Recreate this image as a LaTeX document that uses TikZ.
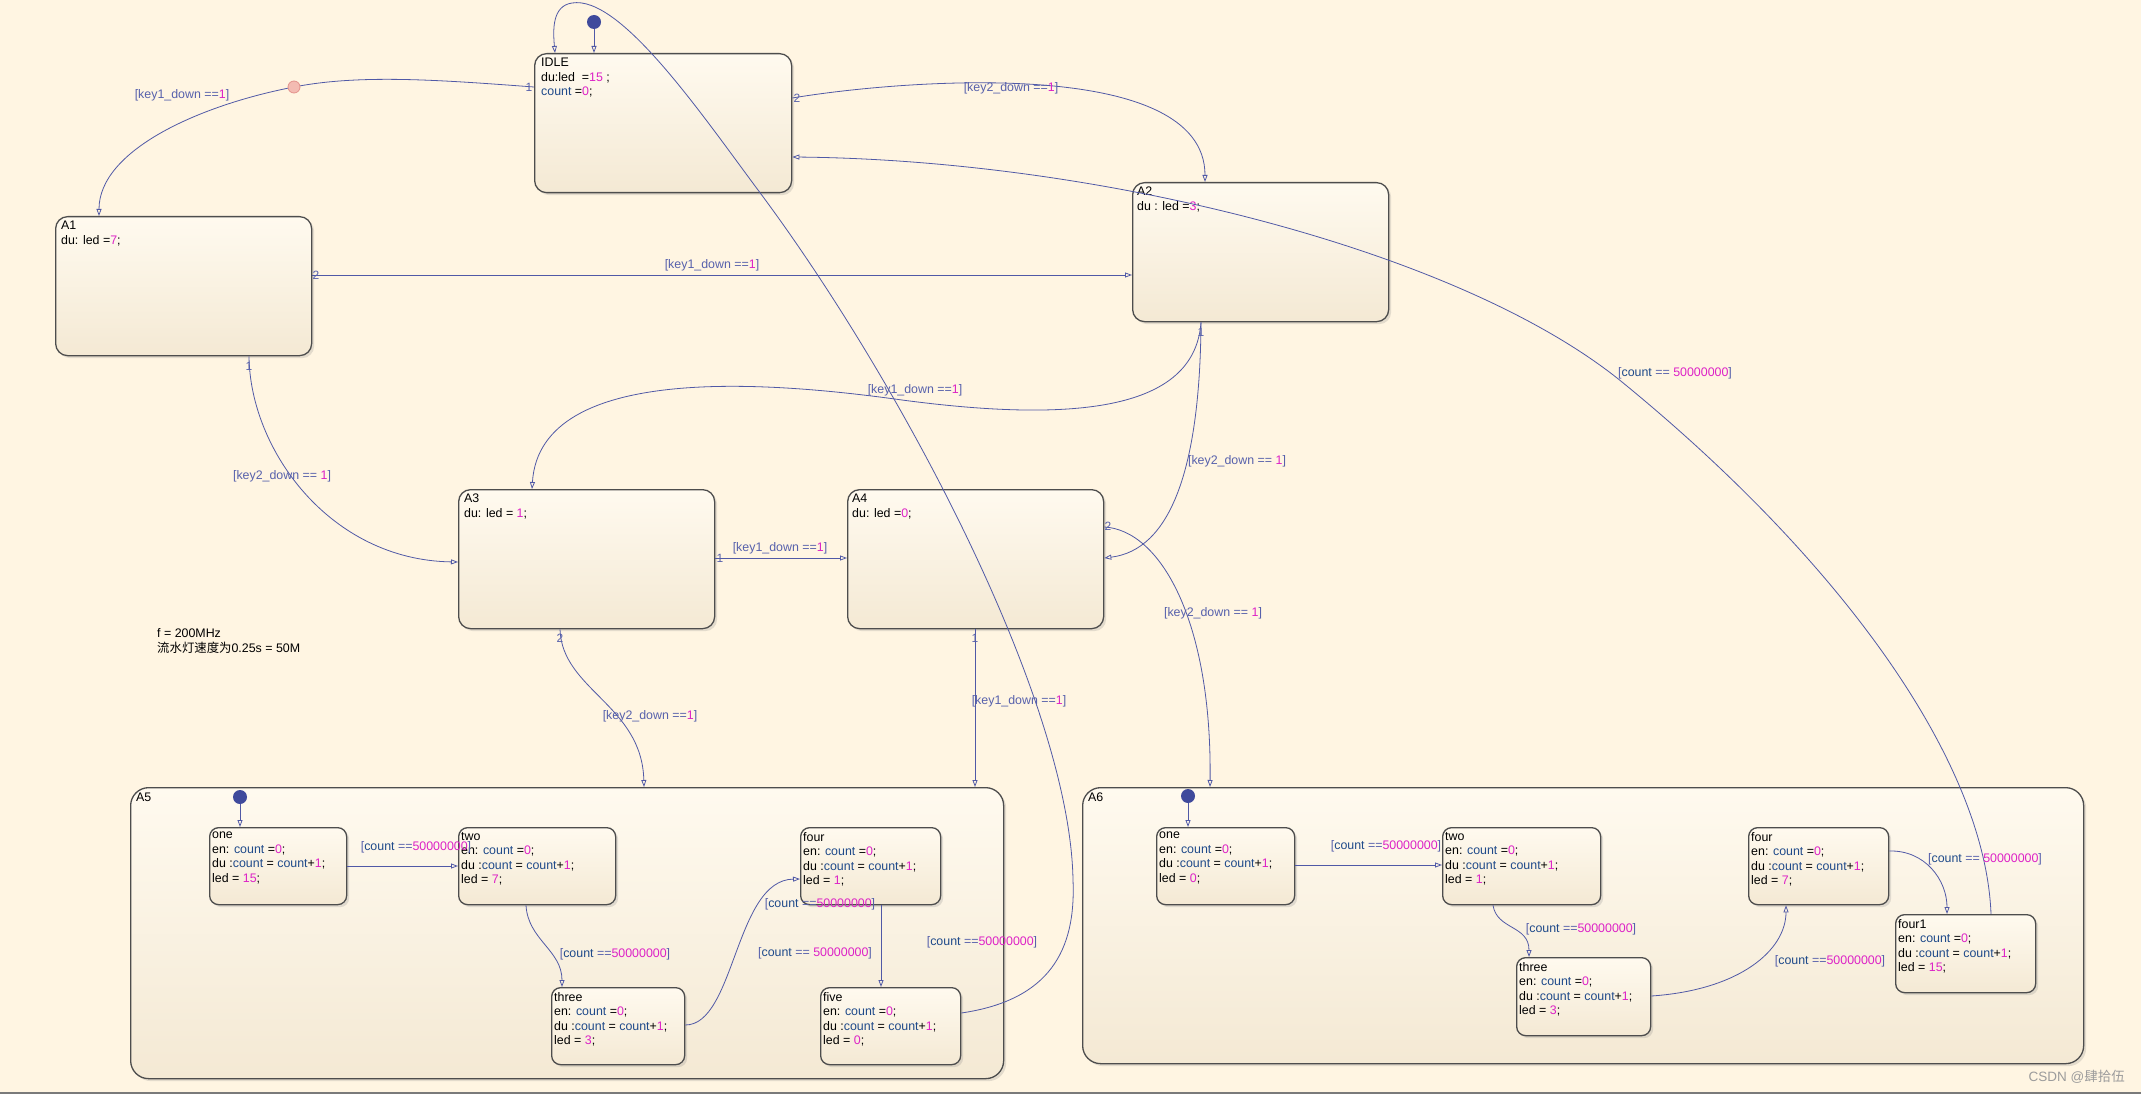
\documentclass[tikz,border=0pt]{standalone}
\usepackage{fontspec}
\setmainfont{Liberation Sans}
\newfontfamily\cjk{Noto Sans CJK SC}
\usetikzlibrary{arrows.meta, calc, shadows}

\definecolor{bgCream}{HTML}{FFF5E2}
\definecolor{stateTop}{HTML}{FFFAEF}
\definecolor{stateBottom}{HTML}{F4E9D4}
\definecolor{stateLine}{HTML}{4D4D4D}
\definecolor{transBlue}{HTML}{5059A6}
\definecolor{guardBlue}{HTML}{5761AC}
\definecolor{varBlue}{HTML}{1F4A8A}
\definecolor{numMag}{HTML}{DD22C6}
\definecolor{dotBlue}{HTML}{3F4A9C}
\definecolor{brkPink}{HTML}{F3BBB2}
\definecolor{brkRed}{HTML}{E3928C}
\definecolor{markGray}{HTML}{9C9C9C}
\definecolor{edgeGray}{HTML}{7A7A7A}

\newcommand{\vnum}[1]{\textcolor{numMag}{#1}}
\newcommand{\vcnt}{\textcolor{varBlue}{count}}

\begin{document}
\begin{tikzpicture}[
  x=1pt, y=-1pt,
  state/.style={
      anchor=north west,
      draw=stateLine,
      line width=1.3pt,
      rounded corners=12pt,
      top color=stateTop,
      bottom color=stateBottom,
      drop shadow={shadow xshift=2.5pt, shadow yshift=-2.5pt, opacity=0.22}
    },
  substate/.style={state, rounded corners=9pt},
  superstate/.style={state, rounded corners=18pt},
  body/.style={
      anchor=north west,
      inner sep=0pt,
      align=left,
      font=\fontsize{12.4}{14.5}\selectfont,
      execute at begin node={\rule{0pt}{9pt}}
    },
  trans/.style={
      draw=transBlue,
      line width=0.8pt,
      arrows = {-Triangle[open,length=7pt,width=5pt]}
    },
  guard/.style={
      text=guardBlue,
      inner sep=1pt,
      font=\fontsize{12.4}{14.5}\selectfont
    },
  port/.style={
      text=guardBlue,
      inner sep=0pt,
      font=\fontsize{12}{14}\selectfont
    },
  start dot/.style={
      circle,
      fill=dotBlue,
      inner sep=0pt,
      minimum size=14pt
    },
  brk/.style={
      circle,
      fill=brkPink,
      draw=brkRed,
      line width=0.8pt,
      inner sep=0pt,
      minimum size=12pt
    }]

  \useasboundingbox (0,0) rectangle (2141,1094);
  \fill [bgCream] (0,0) rectangle (2141,1094);
  \draw [edgeGray, line width=2pt] (0,1093) -- (2141,1093);

  % super states
  \node [superstate, minimum width=873pt, minimum height=291pt] (A5) at (130,787) {};
  \node [superstate, minimum width=1001pt, minimum height=276pt] (A6) at (1082,787) {};
  \node [body] (A5_text) at ($(A5.north west) + (6,5)$) {A5};
  \node [body] (A6_text) at ($(A6.north west) + (6,5)$) {A6};

  % top level states
  \node [state, minimum width=257pt, minimum height=139pt] (IDLE) at (534,53) {};
  \node [state, minimum width=256pt, minimum height=139pt] (A1) at (55,216) {};
  \node [state, minimum width=256pt, minimum height=139pt] (A2) at (1132,182) {};
  \node [state, minimum width=256pt, minimum height=139pt] (A3) at (458,489) {};
  \node [state, minimum width=256pt, minimum height=139pt] (A4) at (847,489) {};

  \node [body] (IDLE_text) at ($(IDLE.north west) + (7,5)$) {IDLE\\du:led\ \ =\vnum{15} ;\\\vcnt{} =\vnum{0};};
  \node [body] (A1_text) at ($(A1.north west) + (6,5)$) {A1\\du: led =\vnum{7};};
  \node [body] (A2_text) at ($(A2.north west) + (5,5)$) {A2\\du : led =\vnum{3};};
  \node [body] (A3_text) at ($(A3.north west) + (6,5)$) {A3\\du: led = \vnum{1};};
  \node [body] (A4_text) at ($(A4.north west) + (5,5)$) {A4\\du: led =\vnum{0};};

  % sub states of A5
  \node [substate, minimum width=137pt, minimum height=77pt] (one5) at (209,827) {};
  \node [substate, minimum width=157pt, minimum height=77pt] (two5) at (458,827) {};
  \node [substate, minimum width=133pt, minimum height=77pt] (three5) at (551,987) {};
  \node [substate, minimum width=140pt, minimum height=77pt] (four5) at (800,827) {};
  \node [substate, minimum width=140pt, minimum height=77pt] (five5) at (820,987) {};

  \node [body] (one5_text) at ($(one5.north west) + (3,5)$) {one\\en: \vcnt{} =\vnum{0};\\du :\vcnt{} = \vcnt{}+\vnum{1};\\led = \vnum{15};};
  \node [body] (two5_text) at ($(two5.north west) + (3,5)$) {two\\en: \vcnt{} =\vnum{0};\\du :\vcnt{} = \vcnt{}+\vnum{1};\\led = \vnum{7};};
  \node [body] (three5_text) at ($(three5.north west) + (3,5)$) {three\\en: \vcnt{} =\vnum{0};\\du :\vcnt{} = \vcnt{}+\vnum{1};\\led = \vnum{3};};
  \node [body] (four5_text) at ($(four5.north west) + (3,5)$) {four\\en: \vcnt{} =\vnum{0};\\du :\vcnt{} = \vcnt{}+\vnum{1};\\led = \vnum{1};};
  \node [body] (five5_text) at ($(five5.north west) + (3,5)$) {five\\en: \vcnt{} =\vnum{0};\\du :\vcnt{} = \vcnt{}+\vnum{1};\\led = \vnum{0};};

  % sub states of A6
  \node [substate, minimum width=138pt, minimum height=77pt] (one6) at (1156,827) {};
  \node [substate, minimum width=158pt, minimum height=77pt] (two6) at (1442,827) {};
  \node [substate, minimum width=134pt, minimum height=78pt] (three6) at (1516,957) {};
  \node [substate, minimum width=140pt, minimum height=77pt] (four6) at (1748,827) {};
  \node [substate, minimum width=140pt, minimum height=78pt] (four16) at (1895,914) {};

  \node [body] (one6_text) at ($(one6.north west) + (3,5)$) {one\\en: \vcnt{} =\vnum{0};\\du :\vcnt{} = \vcnt{}+\vnum{1};\\led = \vnum{0};};
  \node [body] (two6_text) at ($(two6.north west) + (3,5)$) {two\\en: \vcnt{} =\vnum{0};\\du :\vcnt{} = \vcnt{}+\vnum{1};\\led = \vnum{1};};
  \node [body] (three6_text) at ($(three6.north west) + (3,5)$) {three\\en: \vcnt{} =\vnum{0};\\du :\vcnt{} = \vcnt{}+\vnum{1};\\led = \vnum{3};};
  \node [body] (four6_text) at ($(four6.north west) + (3,5)$) {four\\en: \vcnt{} =\vnum{0};\\du :\vcnt{} = \vcnt{}+\vnum{1};\\led = \vnum{7};};
  \node [body] (four16_text) at ($(four16.north west) + (3,5)$) {four1\\en: \vcnt{} =\vnum{0};\\du :\vcnt{} = \vcnt{}+\vnum{1};\\led = \vnum{15};};

  % default transitions
  \node [start dot] (dot_idle) at (594,22) {};
  \node [start dot] (dot_a5) at (240,797) {};
  \node [start dot] (dot_a6) at (1188,796) {};
  \draw [trans] (dot_idle) -- (dot_idle |- IDLE.north);
  \draw [trans] (dot_a5) -- (dot_a5 |- one5.north);
  \draw [trans] (dot_a6) -- (dot_a6 |- one6.north);

  % top level transitions
  \coordinate (brk) at (294,87);
  \draw [trans] ($(IDLE.north west) + (0,34)$) .. controls (440,80) and (360,74) .. (brk)
    .. controls (200,105) and (99,150) .. ($(A1.north west) + (44,0)$);
  \node [brk] (brk_mark) at (brk) {};
  \draw [trans] ($(IDLE.north east) + (0,45)$) .. controls (900,80) and (1205,55) .. ($(A2.north west) + (73,0)$);
  \draw [trans] ($(four16.north west) + (96,0)$) .. controls (1985,760) and (1840,560) .. (1622,382)
    .. controls (1460,250) and (1100,160) .. ($(IDLE.north east) + (0,104)$);
  \draw [trans] ($(A1.north east) + (0,59)$) -- ($(A2.north west) + (0,93)$);
  \draw [trans] ($(A1.south west) + (194,0)$) .. controls (250,450) and (330,560) .. ($(A3.north west) + (0,73)$);
  \draw [trans] ($(A2.south west) + (69,0)$) .. controls (1195,405) and (1090,425) .. (902,400)
    .. controls (780,383) and (540,360) .. ($(A3.north west) + (74,0)$);
  \draw [trans] ($(A2.south west) + (69,0)$) .. controls (1200,470) and (1170,550) .. ($(A4.north east) + (0,69)$);
  \draw [trans] ($(A3.north east) + (0,69)$) -- ($(A4.north west) + (0,69)$);
  \draw [trans] ($(A4.north east) + (0,38)$) .. controls (1160,530) and (1212,620) .. ($(A6.north west) + (128,0)$);
  \draw [trans] ($(A3.south west) + (102,0)$) .. controls (562,690) and (642,705) .. ($(A5.north west) + (514,0)$);
  \draw [trans] ($(A4.south west) + (128,0)$) -- ($(A5.north west) + (845,0)$);
  \draw [trans] ($(five5.north east) + (0,26)$) .. controls (1050,1000) and (1076,950) .. (1073,880)
    .. controls (1070,700) and (900,380) .. (758,190)
    .. controls (700,112) and (620,-5) .. (572,3)
    .. controls (552,6) and (553,30) .. ($(IDLE.north west) + (21,0)$);

  % transitions inside A5
  \draw [trans] ($(one5.north east) + (0,39)$) -- ($(two5.north west) + (0,39)$);
  \draw [trans] ($(two5.south west) + (68,0)$) .. controls (528,940) and (562,950) .. ($(three5.north west) + (11,0)$);
  \draw [trans] ($(three5.north east) + (0,38)$) .. controls (735,1025) and (735,880) .. ($(four5.north west) + (0,52)$);
  \draw [trans] ($(four5.south west) + (81,0)$) -- ($(five5.north west) + (61,0)$);

  % transitions inside A6
  \draw [trans] ($(one6.north east) + (0,38)$) -- ($(two6.north west) + (0,38)$);
  \draw [trans] ($(two6.south west) + (51,0)$) .. controls (1497,930) and (1529,925) .. ($(three6.north west) + (13,0)$);
  \draw [trans] ($(three6.north east) + (0,39)$) .. controls (1740,990) and (1786,950) .. ($(four6.south west) + (38,0)$);
  \draw [trans] ($(four6.north east) + (0,24)$) .. controls (1925,850) and (1947,880) .. ($(four16.north west) + (52,0)$);

  % execution order
  \node [port] (p_idle_1) at (529,87) {1};
  \node [port] (p_idle_2) at (797,98) {2};
  \node [port] (p_a1_2) at (316,275) {2};
  \node [port] (p_a1_1) at (249,366) {1};
  \node [port] (p_a2_1) at (1201,332) {1};
  \node [port] (p_a3_1) at (720,558) {1};
  \node [port] (p_a4_2) at (1108,526) {2};
  \node [port] (p_a3_2) at (560,638) {2};
  \node [port] (p_a4_1) at (975,638) {1};

  % guards
  \node [guard] (g_idle_a1) at (182,95) {[key1\_down ==\vnum{1}]};
  \node [guard] (g_idle_a2) at (1011,88) {[key2\_down ==\vnum{1}]};
  \node [guard] (g_four1_idle) at (1675,373) {[\vcnt{} == \vnum{50000000}]};
  \node [guard] (g_a1_a2) at (712,265) {[key1\_down ==\vnum{1}]};
  \node [guard] (g_a1_a3) at (282,476) {[key2\_down == \vnum{1}]};
  \node [guard] (g_a2_a3) at (915,390) {[key1\_down ==\vnum{1}]};
  \node [guard] (g_a2_a4) at (1237,461) {[key2\_down == \vnum{1}]};
  \node [guard] (g_a3_a4) at (780,548) {[key1\_down ==\vnum{1}]};
  \node [guard] (g_a4_a6) at (1213,613) {[key2\_down == \vnum{1}]};
  \node [guard] (g_a3_a5) at (650,716) {[key2\_down ==\vnum{1}]};
  \node [guard] (g_a4_a5) at (1019,701) {[key1\_down ==\vnum{1}]};
  \node [guard] (g_five_idle) at (982,942) {[\vcnt{} ==\vnum{50000000}]};
  \node [guard] (g_one5) at (416,847) {[\vcnt{} ==\vnum{50000000}]};
  \node [guard] (g_two5) at (615,954) {[\vcnt{} ==\vnum{50000000}]};
  \node [guard] (g_three5) at (820,904) {[\vcnt{} ==\vnum{50000000}]};
  \node [guard] (g_four5) at (815,953) {[\vcnt{} == \vnum{50000000}]};
  \node [guard] (g_one6) at (1386,846) {[\vcnt{} ==\vnum{50000000}]};
  \node [guard] (g_two6) at (1581,929) {[\vcnt{} ==\vnum{50000000}]};
  \node [guard] (g_three6) at (1830,961) {[\vcnt{} ==\vnum{50000000}]};
  \node [guard] (g_four6) at (1985,859) {[\vcnt{} == \vnum{50000000}]};

  % notes
  \node [anchor=west, inner sep=0pt, align=left, font=\fontsize{12.4}{15}\selectfont] (note) at (157,641) {f = 200MHz\\{\cjk 流水灯速度为}0.25s = 50M};
  \node [anchor=east, inner sep=0pt, text=markGray, font=\fontsize{13.5}{16}\selectfont] (csdn) at (2125,1077) {CSDN @{\cjk 肆拾伍}};
\end{tikzpicture}
\end{document}
